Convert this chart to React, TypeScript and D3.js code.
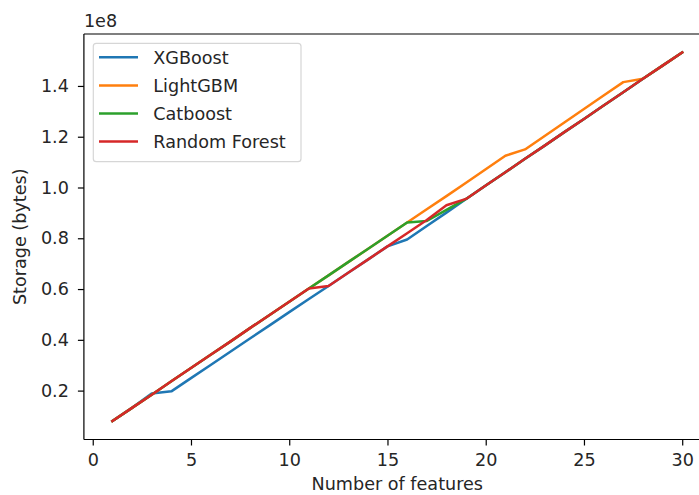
import React, { useRef, useEffect } from 'react';
import * as d3 from 'd3';

// number of features (x)
const features = d3.range(1, 31);

// storage in units of 1e8 bytes
const randomForest = [
  0.080, 0.132, 0.184, 0.237, 0.289, 0.341, 0.393, 0.446, 0.498, 0.550,
  0.602, 0.612, 0.664, 0.716, 0.768, 0.820, 0.872, 0.930, 0.955, 1.008,
  1.060, 1.113, 1.165, 1.218, 1.270, 1.323, 1.375, 1.428, 1.480, 1.532,
];
const xgboost = [
  0.080, 0.132, 0.189, 0.197, 0.249, 0.301, 0.353, 0.405, 0.457, 0.509,
  0.561, 0.612, 0.664, 0.716, 0.768, 0.795, 0.848, 0.901, 0.955, 1.008,
  1.060, 1.113, 1.165, 1.218, 1.270, 1.323, 1.375, 1.428, 1.480, 1.532,
];
const catboost = [
  0.080, 0.132, 0.184, 0.237, 0.289, 0.341, 0.393, 0.446, 0.498, 0.550,
  0.602, 0.654, 0.706, 0.758, 0.810, 0.862, 0.868, 0.912, 0.955, 1.008,
  1.060, 1.113, 1.165, 1.218, 1.270, 1.323, 1.375, 1.428, 1.480, 1.532,
];
const lightgbm = [
  0.080, 0.132, 0.184, 0.237, 0.289, 0.341, 0.393, 0.446, 0.498, 0.550,
  0.602, 0.654, 0.706, 0.758, 0.810, 0.862, 0.914, 0.966, 1.019, 1.072,
  1.125, 1.150, 1.203, 1.256, 1.309, 1.362, 1.415, 1.428, 1.480, 1.532,
];

const seriesNames = ['XGBoost', 'LightGBM', 'Catboost', 'Random Forest'];
const seriesValues = [xgboost, lightgbm, catboost, randomForest];
const colors = ['#1f77b4', '#ff7f0e', '#2ca02c', '#d62728'];

const xTicks = [0, 5, 10, 15, 20, 25, 30];
const yTicks = [0.2, 0.4, 0.6, 0.8, 1.0, 1.2, 1.4];

const W = 699;
const H = 495;
const FONT = '"DejaVu Sans", sans-serif';
const FS = 17.6;

export default function App() {
  const svgRef = useRef<SVGSVGElement>(null);

  useEffect(() => {
    const svg = d3.select(svgRef.current);
    svg.selectAll('*').remove();

    const left = 83.9, right = 710.7, top = 34, bottom = 439.5;

    // matplotlib style 5% margins
    const xPad = (30 - 1) * 0.05;
    const yMin = d3.min(seriesValues, s => d3.min(s)) as number;
    const yMax = d3.max(seriesValues, s => d3.max(s)) as number;
    const yPad = (yMax - yMin) * 0.05;

    const x = d3.scaleLinear().domain([1 - xPad, 30 + xPad]).range([left, right]);
    const y = d3.scaleLinear().domain([yMin - yPad, yMax + yPad]).range([bottom, top]);

    const line = d3.line<number>()
      .x((_, i) => x(features[i]))
      .y(d => y(d));

    // lines
    seriesValues.forEach((vals, k) => {
      svg.append('path')
        .datum(vals)
        .attr('d', line)
        .attr('fill', 'none')
        .attr('stroke', colors[k])
        .attr('stroke-width', 2.5)
        .attr('stroke-linejoin', 'round')
        .attr('stroke-linecap', 'square');
    });

    // spines
    const frame = svg.append('g').attr('stroke', '#000').attr('stroke-width', 1.2);
    frame.append('line').attr('x1', left).attr('x2', left).attr('y1', top).attr('y2', bottom);
    frame.append('line').attr('x1', left).attr('x2', right).attr('y1', bottom).attr('y2', bottom);
    frame.append('line').attr('x1', left).attr('x2', right).attr('y1', top).attr('y2', top);
    frame.append('line').attr('x1', right).attr('x2', right).attr('y1', top).attr('y2', bottom);

    // x axis
    const gx = svg.append('g')
      .attr('transform', `translate(0,${bottom})`)
      .call(d3.axisBottom(x).tickValues(xTicks).tickSize(6).tickPadding(8).tickFormat(d3.format('d')));
    gx.select('.domain').remove();
    gx.selectAll('line').attr('stroke', '#000').attr('stroke-width', 1.2);
    gx.selectAll('text')
      .attr('font-family', FONT)
      .attr('font-size', FS)
      .attr('fill', '#262626');

    // y axis
    const gy = svg.append('g')
      .attr('transform', `translate(${left},0)`)
      .call(d3.axisLeft(y).tickValues(yTicks).tickSize(6).tickPadding(9).tickFormat(d3.format('.1f')));
    gy.select('.domain').remove();
    gy.selectAll('line').attr('stroke', '#000').attr('stroke-width', 1.2);
    gy.selectAll('text')
      .attr('font-family', FONT)
      .attr('font-size', FS)
      .attr('fill', '#262626');

    // offset text
    svg.append('text')
      .attr('x', left)
      .attr('y', 26.5)
      .attr('font-family', FONT)
      .attr('font-size', FS)
      .attr('fill', '#262626')
      .text('1e8');

    // axis labels
    svg.append('text')
      .attr('x', (left + right) / 2)
      .attr('y', 490)
      .attr('text-anchor', 'middle')
      .attr('font-family', FONT)
      .attr('font-size', FS)
      .attr('fill', '#262626')
      .text('Number of features');

    svg.append('text')
      .attr('transform', `translate(26,${(top + bottom) / 2}) rotate(-90)`)
      .attr('text-anchor', 'middle')
      .attr('font-family', FONT)
      .attr('font-size', FS)
      .attr('fill', '#262626')
      .text('Storage (bytes)');

    // legend
    const lg = svg.append('g');
    lg.append('rect')
      .attr('x', 93.3)
      .attr('y', 43.3)
      .attr('width', 207.7)
      .attr('height', 118.4)
      .attr('rx', 3)
      .attr('fill', '#fff')
      .attr('fill-opacity', 0.8)
      .attr('stroke', '#d6d6d6')
      .attr('stroke-width', 1.2);

    seriesNames.forEach((name, k) => {
      const ly = 57.3 + k * 28.1;
      lg.append('line')
        .attr('x1', 99).attr('x2', 138)
        .attr('y1', ly).attr('y2', ly)
        .attr('stroke', colors[k])
        .attr('stroke-width', 2.5);
      lg.append('text')
        .attr('x', 153.3)
        .attr('y', ly + 6.5)
        .attr('font-family', FONT)
        .attr('font-size', FS)
        .attr('fill', '#262626')
        .text(name);
    });
  }, []);

  return (
    <svg
      ref={svgRef}
      width={W}
      height={H}
      style={{ position: 'absolute', left: 0, top: 0, background: '#fff' }}
    />
  );
}
